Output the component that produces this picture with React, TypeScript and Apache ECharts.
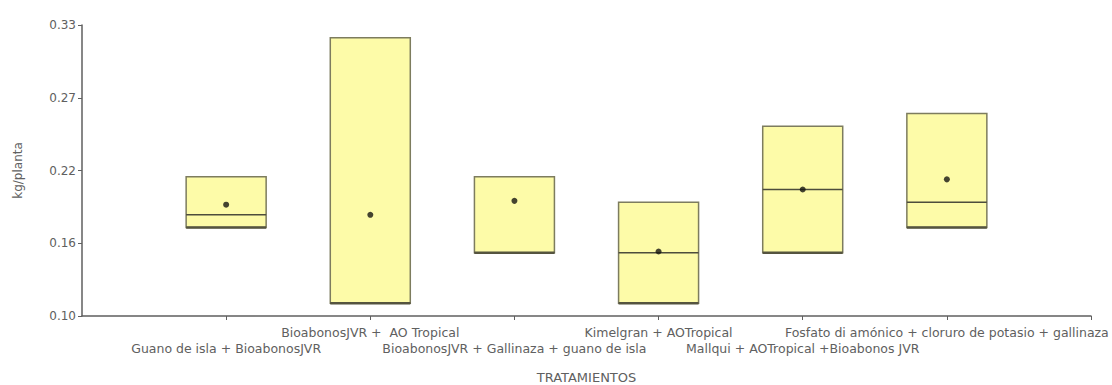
import React, { useEffect, useRef } from "react";
import * as echarts from "echarts";

// Treatments (x positions 1..6)
const categories = [
  "Guano de isla + BioabonosJVR",
  "BioabonosJVR +  AO Tropical",
  "BioabonosJVR + Gallinaza + guano de isla",
  "Kimelgran + AOTropical",
  "Mallqui + AOTropical +Bioabonos JVR",
  "Fosfato di amónico + cloruro de potasio + gallinaza",
];

// Box statistics, kg/planta
const q1 = [0.17, 0.11, 0.15, 0.11, 0.15, 0.17];
const medians = [0.18, 0.11, 0.15, 0.15, 0.2, 0.19];
const q3 = [0.21, 0.32, 0.21, 0.19, 0.25, 0.26];
const means = [0.188, 0.18, 0.191, 0.151, 0.2, 0.208];

// Y axis ticks (five evenly spaced marks between 0.10 and 0.33)
const yTickValues = [0.1, 0.1575, 0.215, 0.2725, 0.33];
const yTickLabels = ["0.10", "0.16", "0.22", "0.27", "0.33"];

const FONT = "DejaVu Sans";
const TEXT = "#606060";
const AXIS = "#5f5f5f";

const positions = categories.map((_, i) => i + 1);
const lowerRow = positions.filter((_, i) => i % 2 === 0); // 1, 3, 5
const upperRow = positions.filter((_, i) => i % 2 === 1); // 2, 4, 6

const catLabel = (v: number) => {
  const idx = Math.round(v) - 1;
  return idx >= 0 && idx < categories.length ? categories[idx] : "";
};

export default function App() {
  const ref = useRef<HTMLDivElement>(null);

  useEffect(() => {
    document.body.style.margin = "0";
    if (!ref.current) return;
    const chart = echarts.init(ref.current, undefined, { renderer: "svg" });

    const boxData = categories.map((_, i) => [i + 1, q1[i], medians[i], q3[i]]);
    const meanData = means.map((m, i) => [i + 1, m]);

    const labelBase = {
      showMinLabel: true,
      showMaxLabel: true,
      hideOverlap: false,
      fontFamily: FONT,
      fontSize: 12.5,
      color: TEXT,
      verticalAlign: "top",
      formatter: catLabel,
    };

    chart.setOption({
      animation: false,
      backgroundColor: "#ffffff",
      grid: {
        left: 82,
        right: 21,
        top: 25,
        bottom: 69,
        containLabel: false,
        outerBoundsMode: "none",
      },
      xAxis: [
        {
          type: "value",
          min: 0,
          max: 7,
          interval: 1,
          name: "TRATAMIENTOS",
          nameLocation: "middle",
          nameGap: 55,
          nameTextStyle: { fontFamily: FONT, fontSize: 13, color: TEXT },
          axisLine: { show: true, lineStyle: { color: AXIS, width: 1.5 } },
          axisTick: {
            show: true,
            length: 4,
            customValues: [...positions, positions.length + 1],
            lineStyle: { color: AXIS },
          },
          splitLine: { show: false },
          axisLabel: { ...labelBase, customValues: lowerRow, margin: 26 },
        },
        {
          type: "value",
          position: "bottom",
          min: 0,
          max: 7,
          interval: 1,
          axisLine: { show: false },
          axisTick: { show: false },
          splitLine: { show: false },
          axisLabel: { ...labelBase, customValues: upperRow, margin: 10 },
        },
      ],
      yAxis: {
        type: "value",
        min: 0.1,
        max: 0.33,
        name: "kg/planta",
        nameLocation: "middle",
        nameGap: 58,
        nameTextStyle: { fontFamily: FONT, fontSize: 12, color: TEXT },
        axisLine: { show: true, lineStyle: { color: AXIS, width: 1.5 } },
        axisTick: {
          show: true,
          length: 4,
          customValues: yTickValues,
          lineStyle: { color: AXIS },
        },
        splitLine: { show: false },
        axisLabel: {
          customValues: yTickValues,
          showMinLabel: true,
          showMaxLabel: true,
          margin: 6,
          fontFamily: FONT,
          fontSize: 12,
          color: TEXT,
          formatter: (v: number) => {
            let best = 0;
            yTickValues.forEach((t, i) => {
              if (Math.abs(t - v) < Math.abs(yTickValues[best] - v)) best = i;
            });
            return yTickLabels[best];
          },
        },
      },
      series: [
        {
          type: "custom",
          data: boxData,
          encode: { x: 0, y: [1, 2, 3] },
          renderItem: (params: any, api: any) => {
            const x = api.value(0);
            const lo = api.coord([x, api.value(1)]);
            const md = api.coord([x, api.value(2)]);
            const hi = api.coord([x, api.value(3)]);
            const w = api.size([0.555, 0])[0];
            const left = lo[0] - w / 2;
            const right = lo[0] + w / 2;
            return {
              type: "group",
              children: [
                {
                  type: "rect",
                  shape: { x: left, y: hi[1], width: w, height: lo[1] - hi[1] },
                  style: { fill: "#fdfba8", stroke: "#7d7c5e", lineWidth: 1.5 },
                },
                {
                  type: "line",
                  shape: { x1: left, y1: md[1], x2: right, y2: md[1] },
                  style: { stroke: "#4d4c3c", lineWidth: 1.5 },
                },
                {
                  type: "line",
                  shape: { x1: left, y1: lo[1], x2: right, y2: lo[1] },
                  style: { stroke: "#55543f", lineWidth: 2.5 },
                },
              ],
            };
          },
          z: 2,
        },
        {
          type: "scatter",
          data: meanData,
          symbol: "circle",
          symbolSize: 6,
          itemStyle: { color: "#151510" },
          z: 3,
        },
      ],
    });

    return () => chart.dispose();
  }, []);

  return <div ref={ref} style={{ width: 1112, height: 385 }} />;
}
